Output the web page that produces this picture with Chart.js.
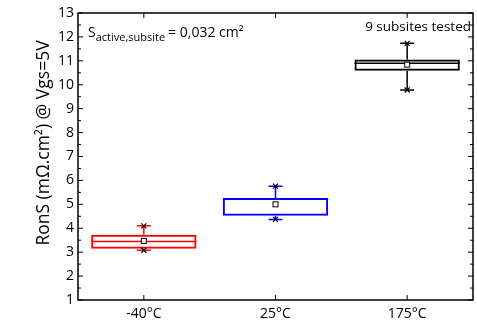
<!DOCTYPE html>
<html lang="en">
<head>
  <meta charset="UTF-8" />
  <title>RonS box plot</title>
  <script src="https://cdn.jsdelivr.net/npm/chart.js"></script>
  <style>
    html, body { margin: 0; padding: 0; background: #fff; }
    #wrap { width: 477px; height: 322px; }
  </style>
</head>
<body>
  <div id="wrap"><canvas id="c"></canvas></div>
  <script>
    const categories = ['-40°C', '25°C', '175°C'];
    const boxColors = ['#ff0000', '#0000ff', '#000000'];
    const q1 = [3.14, 4.52, 10.59];
    const q3 = [3.73, 5.27, 11.06];
    const median = [3.45, 5.21, 10.90];
    const mean = [3.47, 5.00, 10.84];
    const whiskerLow = [3.08, 4.37, 9.78];
    const whiskerHigh = [4.10, 5.76, 11.73];
    const yTicks = [1, 2, 3, 4, 5, 6, 7, 8, 9, 10, 11, 12, 13];

    const FONT = '"Open Sans", sans-serif';

    // whiskers, medians, means, inward ticks, frame and texts
    const boxExtras = {
      id: 'boxExtras',
      afterDatasetsDraw(chart) {
        const ctx = chart.ctx;
        const x = chart.scales.x, y = chart.scales.y;
        const area = chart.chartArea;
        const meta = chart.getDatasetMeta(0);
        ctx.save();
        categories.forEach((c, i) => {
          const bar = meta.data[i];
          const cx = x.getPixelForValue(i);
          const half = bar.width / 2;
          ctx.strokeStyle = boxColors[i];
          ctx.lineWidth = 1.5;
          // median
          ctx.beginPath();
          ctx.moveTo(cx - half, y.getPixelForValue(median[i]));
          ctx.lineTo(cx + half, y.getPixelForValue(median[i]));
          ctx.stroke();
          // whiskers
          ctx.beginPath();
          ctx.moveTo(cx, y.getPixelForValue(q3[i]));
          ctx.lineTo(cx, y.getPixelForValue(whiskerHigh[i]));
          ctx.moveTo(cx, y.getPixelForValue(q1[i]));
          ctx.lineTo(cx, y.getPixelForValue(whiskerLow[i]));
          [whiskerHigh[i], whiskerLow[i]].forEach(v => {
            const py = y.getPixelForValue(v);
            ctx.moveTo(cx - 7, py);
            ctx.lineTo(cx + 7, py);
          });
          ctx.stroke();
          // x markers
          ctx.strokeStyle = '#000';
          ctx.lineWidth = 1.2;
          [whiskerHigh[i], whiskerLow[i]].forEach(v => {
            const py = y.getPixelForValue(v);
            ctx.beginPath();
            ctx.moveTo(cx - 2.5, py - 2.5); ctx.lineTo(cx + 2.5, py + 2.5);
            ctx.moveTo(cx + 2.5, py - 2.5); ctx.lineTo(cx - 2.5, py + 2.5);
            ctx.stroke();
          });
          // mean square
          const my = y.getPixelForValue(mean[i]);
          ctx.fillStyle = '#fff';
          ctx.fillRect(cx - 2.5, my - 2.5, 5, 5);
          ctx.lineWidth = 1;
          ctx.strokeRect(cx - 2.5, my - 2.5, 5, 5);
        });

        // frame
        ctx.strokeStyle = '#000';
        ctx.lineWidth = 1.5;
        ctx.strokeRect(area.left, area.top, area.right - area.left, area.bottom - area.top);

        // inward ticks
        ctx.lineWidth = 1;
        ctx.beginPath();
        yTicks.forEach((v, k) => {
          const py = y.getPixelForValue(v);
          ctx.moveTo(area.left, py); ctx.lineTo(area.left + 5, py);
          ctx.moveTo(area.right, py); ctx.lineTo(area.right - 5, py);
          if (k < yTicks.length - 1) {
            const pm = y.getPixelForValue(v + 0.5);
            ctx.moveTo(area.left, pm); ctx.lineTo(area.left + 3, pm);
            ctx.moveTo(area.right, pm); ctx.lineTo(area.right - 3, pm);
          }
        });
        categories.forEach((c, i) => {
          const px = x.getPixelForValue(i);
          ctx.moveTo(px, area.bottom); ctx.lineTo(px, area.bottom - 5);
          ctx.moveTo(px, area.top); ctx.lineTo(px, area.top + 5);
        });
        ctx.stroke();

        // texts
        ctx.fillStyle = '#000';
        ctx.textBaseline = 'alphabetic';
        ctx.textAlign = 'right';
        ctx.font = '13.5px ' + FONT;
        ctx.fillText('9 subsites tested', area.right - 2, 31);

        ctx.textAlign = 'left';
        let tx = 88;
        ctx.font = '14px ' + FONT;
        ctx.fillText('S', tx, 37);
        tx += ctx.measureText('S').width;
        ctx.font = '11px ' + FONT;
        ctx.fillText('active,subsite', tx, 41);
        tx += ctx.measureText('active,subsite').width + 3;
        ctx.font = '14px ' + FONT;
        ctx.fillText('= 0,032 cm²', tx, 37);

        // y title
        ctx.save();
        ctx.translate(49, 143);
        ctx.rotate(-Math.PI / 2);
        ctx.textAlign = 'center';
        ctx.font = '17.5px ' + FONT;
        ctx.fillText('RonS (mΩ.cm²) @ Vgs=5V', 0, 0);
        ctx.restore();

        ctx.restore();
      }
    };

    new Chart(document.getElementById('c'), {
      type: 'bar',
      data: {
        labels: categories,
        datasets: [{
          data: q1.map((v, i) => [v, q3[i]]),
          backgroundColor: 'rgba(255,255,255,0)',
          borderColor: boxColors,
          borderWidth: 2,
          borderSkipped: false,
          barPercentage: 0.8,
          categoryPercentage: 1
        }]
      },
      options: {
        responsive: true,
        maintainAspectRatio: false,
        animation: false,
        layout: { padding: { top: 13, right: 4, left: 0, bottom: 0 } },
        plugins: { legend: { display: false }, tooltip: { enabled: false } },
        scales: {
          x: {
            offset: true,
            grid: { display: false, drawTicks: false },
            border: { display: false },
            ticks: { color: '#000', padding: 6, font: { family: FONT, size: 14 } },
            afterFit(s) { s.height = 22; }
          },
          y: {
            min: 1,
            max: 13,
            afterBuildTicks(s) { s.ticks = yTicks.map(v => ({ value: v })); },
            grid: { display: false, drawTicks: false },
            border: { display: false },
            ticks: { color: '#000', padding: 4, font: { family: FONT, size: 14 } },
            afterFit(s) { s.width = 78; }
          }
        }
      },
      plugins: [boxExtras]
    });
  </script>
</body>
</html>
